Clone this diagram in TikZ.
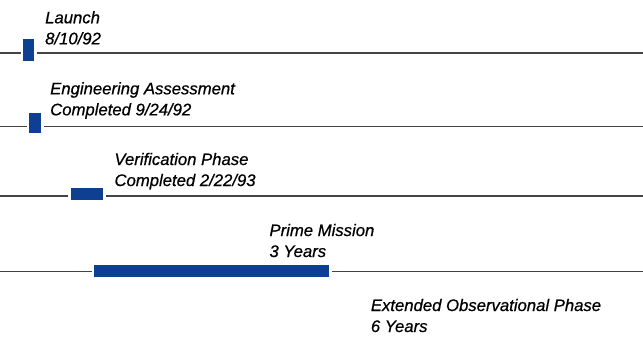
\documentclass[tikz,border=0pt]{standalone}
\usepackage{fontspec}
\setmainfont{Liberation Sans}
\newfontface\labelfont{Liberation Sans Italic}[FakeBold=0.6]
\usetikzlibrary{positioning}

\definecolor{barblue}{HTML}{0F3F91}
\definecolor{linegrey}{HTML}{444444}

\begin{document}
\begin{tikzpicture}[x=1pt,y=-1pt,
    font=\fontsize{16.7}{21}\labelfont,
    bar/.style={shape=rectangle,
      fill=barblue,
      inner sep=0pt},
    label/.style={anchor=base west,
      align=left,
      inner sep=0pt},
    axis/.style={draw=linegrey,
      line width=1.3pt}]
    \path [use as bounding box] (0,0) rectangle (643,340);

    % phases
    \node[name=launch,
      bar,
      minimum width=11pt,
      minimum height=21.7pt] at (28.8,50.2) {};

    \node[name=assess,
      bar,
      minimum width=11.4pt,
      minimum height=20.6pt] at (35,123) {};

    \node[name=verify,
      bar,
      minimum width=32pt,
      minimum height=11.7pt] at (86.7,194.2) {};

    \node[name=prime,
      bar,
      minimum width=234.7pt,
      minimum height=12.5pt] at (211.7,271.2) {};

    % labels (anchored at the last line)
    \node[name=launchtxt,label] at (45,44.3) {Launch\\8/10/92};
    \node[name=assesstxt,label] at (50,115.3) {Engineering Assessment\\Completed 9/24/92};
    \node[name=verifytxt,label] at (114.3,186) {Verification Phase\\Completed 2/22/93};
    \node[name=primetxt,label] at (269.3,257) {Prime Mission\\3 Years};
    \node[name=extendtxt,label] at (370.7,332) {Extended Observational Phase\\6 Years};

    % time lines
    \coordinate (l1a) at (0,53); \coordinate (l1b) at (643,53);
    \coordinate (l2a) at (0,126.3); \coordinate (l2b) at (643,126.3);
    \coordinate (l3a) at (0,196); \coordinate (l3b) at (643,196);
    \coordinate (l4a) at (0,271.7); \coordinate (l4b) at (643,271.7);

    \path (l1a) edge[axis,shorten >=2.5pt] (l1a -| launch.west);
    \path (l1a -| launch.east) edge[axis,shorten <=2.8pt] (l1b);
    \path (l2a) edge[axis,shorten >=2.6pt] (l2a -| assess.west);
    \path (l2a -| assess.east) edge[axis,shorten <=2.6pt] (l2b);
    \path (l3a) edge[axis,shorten >=3pt] (l3a -| verify.west);
    \path (l3a -| verify.east) edge[axis,shorten <=3pt] (l3b);
    \path (l4a) edge[axis,shorten >=2.6pt] (l4a -| prime.west);
    \path (l4a -| prime.east) edge[axis,shorten <=3pt] (l4b);
  \end{tikzpicture}
\end{document}
